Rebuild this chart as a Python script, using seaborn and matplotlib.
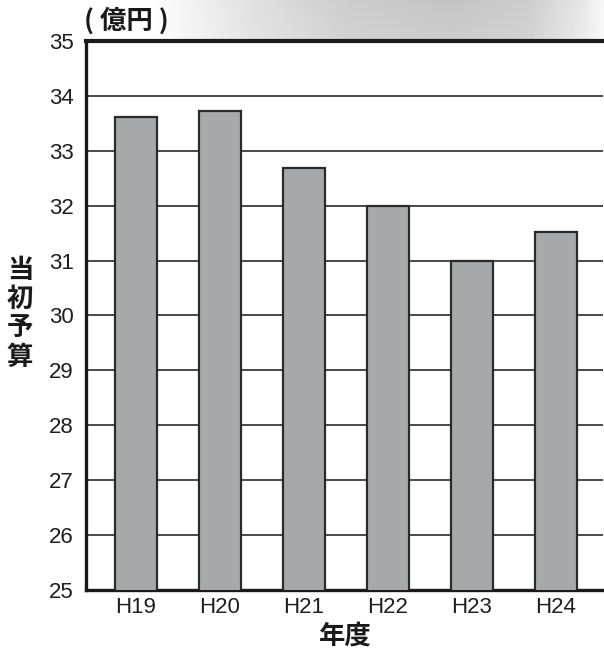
import numpy as np
import pandas as pd
import matplotlib
matplotlib.use("Agg")
import matplotlib.pyplot as plt
import seaborn as sns

# 当初予算 (億円) by fiscal year
years = ["H19", "H20", "H21", "H22", "H23", "H24"]
budget = [33.62, 33.72, 32.68, 32.0, 31.0, 31.52]
yticks = list(range(25, 36))
ylabel_text = "当初予算"
xlabel_text = "年度"
unit_text = "( 億円 )"

sns.set_theme(style="white")
plt.rcParams["font.family"] = ["Liberation Sans", "Noto Sans CJK JP", "DejaVu Sans"]
cjk = ["Noto Sans CJK JP", "DejaVu Sans"]

W, H = 604, 653
fig = plt.figure(figsize=(W / 100, H / 100), dpi=100)

# soft grey header band behind the unit label
band = fig.add_axes([150 / W, 1 - 40 / H, (W - 150) / W, 40 / H], zorder=0)
xs = np.linspace(0, 1, 454)
prof = np.interp(xs, [0.0, 0.05, 0.22, 0.44, 0.66, 0.83, 0.95, 1.0],
                 [0.0, 0.03, 0.12, 0.20, 0.23, 0.20, 0.10, 0.03])
ys = np.linspace(0, 1, 40)
vert = 1.0 - 0.12 * ys
shade = 1.0 - np.outer(vert, prof)
band.imshow(shade, cmap="gray", vmin=0, vmax=1, aspect="auto", interpolation="bilinear")
band.axis("off")

ax = fig.add_axes([86 / W, 1 - 590 / H, (603 - 86) / W, (590 - 41) / H], zorder=1)
ax.set_facecolor("white")
df = pd.DataFrame({"year": years, "budget": budget})
sns.barplot(data=df, x="year", y="budget", ax=ax, color="#a7a8aa",
            edgecolor="#2a2a2a", linewidth=1.6, width=0.5, saturation=1, zorder=3)

ax.set_ylim(25, 35)
ax.set_xlim(-0.595, 5.56)
ax.set_yticks(yticks)
ax.set_axisbelow(True)
ax.yaxis.grid(True, color="#2a2a2a", linewidth=1.2)
ax.xaxis.grid(False)

for side, lw in [("top", 3.0), ("left", 2.4), ("bottom", 2.4)]:
    ax.spines[side].set_visible(True)
    ax.spines[side].set_color("#1a1a1a")
    ax.spines[side].set_linewidth(lw)
ax.spines["right"].set_visible(False)

ax.tick_params(axis="y", length=0, pad=9, labelsize=16, labelcolor="#1e1e1e")
ax.tick_params(axis="x", length=0, pad=5, labelsize=16, labelcolor="#1e1e1e")
ax.set_ylabel("")
ax.set_xlabel("")

fig.text(345 / W, 1 - 636 / H, xlabel_text, fontsize=19, fontweight="bold",
         family=cjk, color="#1a1a1a", ha="center", va="center")

fig.text(84 / W, 1 - 21 / H, unit_text, fontsize=19, fontweight="bold",
         family=cjk, color="#1a1a1a", ha="left", va="center")

for i, ch in enumerate(ylabel_text):
    fig.text(20 / W, 1 - (270 + 29 * i) / H, ch, fontsize=19, fontweight="bold",
             family=cjk, color="#1a1a1a", ha="center", va="center")

fig.savefig("out.png", dpi=100)
